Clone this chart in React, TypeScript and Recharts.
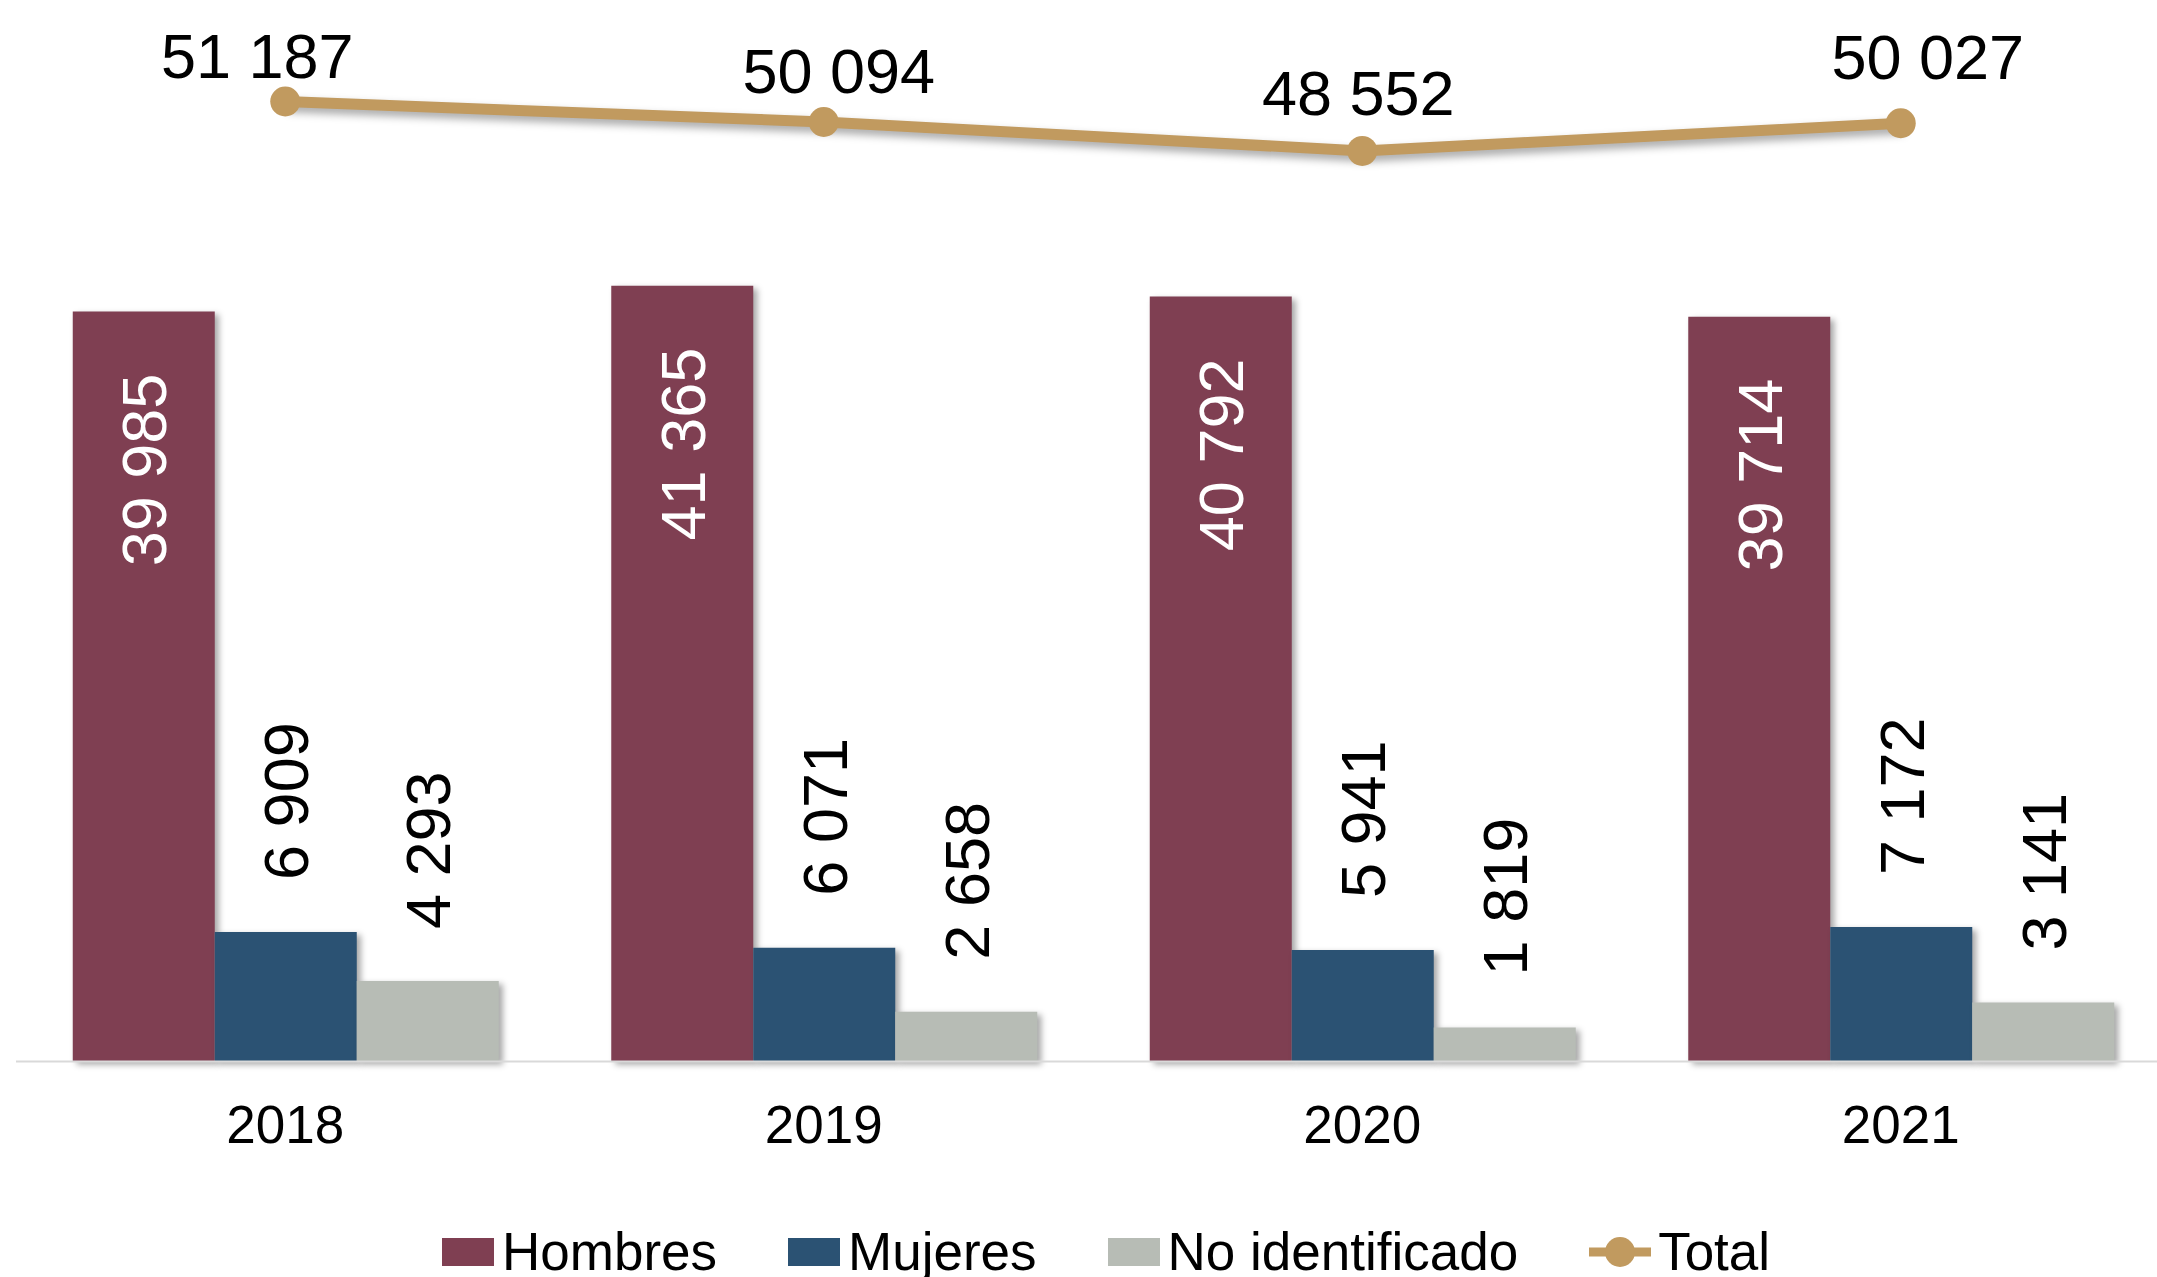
import React from 'react';
import { ComposedChart, Bar, Line, XAxis, YAxis, LabelList } from 'recharts';

const years = ['2018', '2019', '2020', '2021'];
const hombres = [39985, 41365, 40792, 39714];
const mujeres = [6909, 6071, 5941, 7172];
const noIdentificado = [4293, 2658, 1819, 3141];
const total = [51187, 50094, 48552, 50027];

// small hand nudges for the total labels (Excel had them dragged a bit)
const totalLabelDx = [-28, 15, -4, 27];
const totalLabelLift = [46, 52, 59, 67];

const COLORS = {
  hombres: '#7F3F52',
  mujeres: '#2B5273',
  noId: '#B7BCB5',
  total: '#C19A5F',
};

const FONT = '"Liberation Sans", Arial, sans-serif';

const data = years.map((year, i) => ({
  year,
  hombres: hombres[i],
  mujeres: mujeres[i],
  noId: noIdentificado[i],
  total: total[i],
}));

const fmt = (v: number) => String(v).replace(/\B(?=(\d{3})+(?!\d))/g, ' ');

const css = `
  .bars-shadow .recharts-rectangle { filter: drop-shadow(4px 3px 3px rgba(0,0,0,0.35)); }
  .total-line .recharts-line-curve, .total-line .recharts-line-dots { filter: drop-shadow(3px 5px 4px rgba(0,0,0,0.35)); }
`;

// white label inside top of the tall bars, read bottom-to-top
const InsideLabel = (props: any) => {
  const { x, y, width, value } = props;
  const cx = x + width / 2;
  const ty = y + 62;
  return (
    <text x={cx} y={ty} dy="0.36em" transform={`rotate(-90, ${cx}, ${ty})`} textAnchor="end"
      fill="#fff" fontSize={63} fontFamily={FONT}>
      {fmt(value)}
    </text>
  );
};

// black label above the short bars
const AboveLabel = (props: any) => {
  const { x, y, width, value } = props;
  const cx = x + width / 2;
  const ty = y - 52;
  return (
    <text x={cx} y={ty} dy="0.36em" transform={`rotate(-90, ${cx}, ${ty})`} textAnchor="start"
      fill="#000" fontSize={63} fontFamily={FONT}>
      {fmt(value)}
    </text>
  );
};

const TotalLabel = (props: any) => {
  const { x, y, value, index } = props;
  return (
    <text x={x + totalLabelDx[index]} y={y - totalLabelLift[index]} dy="0.36em" textAnchor="middle"
      fill="#000" fontSize={63} fontFamily={FONT}>
      {fmt(value)}
    </text>
  );
};

const YearTick = (props: any) => {
  const { x, y, payload } = props;
  return (
    <text x={x} y={y} dy={81} textAnchor="middle" fill="#000" fontSize={53} fontFamily={FONT}>
      {payload.value}
    </text>
  );
};

const legendItems = [
  { name: 'Hombres', color: COLORS.hombres, kind: 'box' },
  { name: 'Mujeres', color: COLORS.mujeres, kind: 'box' },
  { name: 'No identificado', color: COLORS.noId, kind: 'box' },
  { name: 'Total', color: COLORS.total, kind: 'line' },
];

function ChartLegend() {
  return (
    <div style={{ position: 'absolute', left: 442, top: 1225, display: 'flex', alignItems: 'center',
      fontFamily: FONT, fontSize: 53, lineHeight: '53px', color: '#000', whiteSpace: 'nowrap' }}>
      {legendItems.map((it) => (
        <div key={it.name} style={{ display: 'flex', alignItems: 'center', marginRight: 71, height: 53 }}>
          {it.kind === 'box' ? (
            <div style={{ width: 52, height: 28, background: it.color, marginRight: 8 }} />
          ) : (
            <svg width={62} height={34} style={{ marginRight: 7 }}>
              <line x1={0} y1={17} x2={62} y2={17} stroke={it.color} strokeWidth={9} strokeLinecap="round" />
              <circle cx={31} cy={17} r={15} fill={it.color} />
            </svg>
          )}
          <span>{it.name}</span>
        </div>
      ))}
    </div>
  );
}

export default function App() {
  return (
    <div style={{ position: 'fixed', left: 0, top: 0, width: 2157, height: 1277, overflow: 'hidden', background: '#fff' }}>
      <style>{css}</style>
      <ComposedChart
        width={2172}
        height={1277}
        data={data}
        margin={{ top: 30, right: 2, left: 16, bottom: 155.5 }}
        barCategoryGap="10.54%"
        barGap={0}
      >
        <XAxis dataKey="year" axisLine={{ stroke: '#D9D9D9', strokeWidth: 2 }} tickLine={false}
          tickSize={0} tickMargin={0} height={60} tick={<YearTick />} interval={0} />
        <YAxis hide domain={[0, 55000]} />
        <Bar dataKey="hombres" fill={COLORS.hombres} className="bars-shadow" isAnimationActive={false}>
          <LabelList dataKey="hombres" content={<InsideLabel />} />
        </Bar>
        <Bar dataKey="mujeres" fill={COLORS.mujeres} className="bars-shadow" isAnimationActive={false}>
          <LabelList dataKey="mujeres" content={<AboveLabel />} />
        </Bar>
        <Bar dataKey="noId" fill={COLORS.noId} className="bars-shadow" isAnimationActive={false}>
          <LabelList dataKey="noId" content={<AboveLabel />} />
        </Bar>
        <Line dataKey="total" type="linear" stroke={COLORS.total} strokeWidth={11} className="total-line"
          dot={{ r: 15, fill: COLORS.total, stroke: 'none' }} activeDot={false} isAnimationActive={false}>
          <LabelList dataKey="total" content={<TotalLabel />} />
        </Line>
      </ComposedChart>
      <ChartLegend />
    </div>
  );
}
